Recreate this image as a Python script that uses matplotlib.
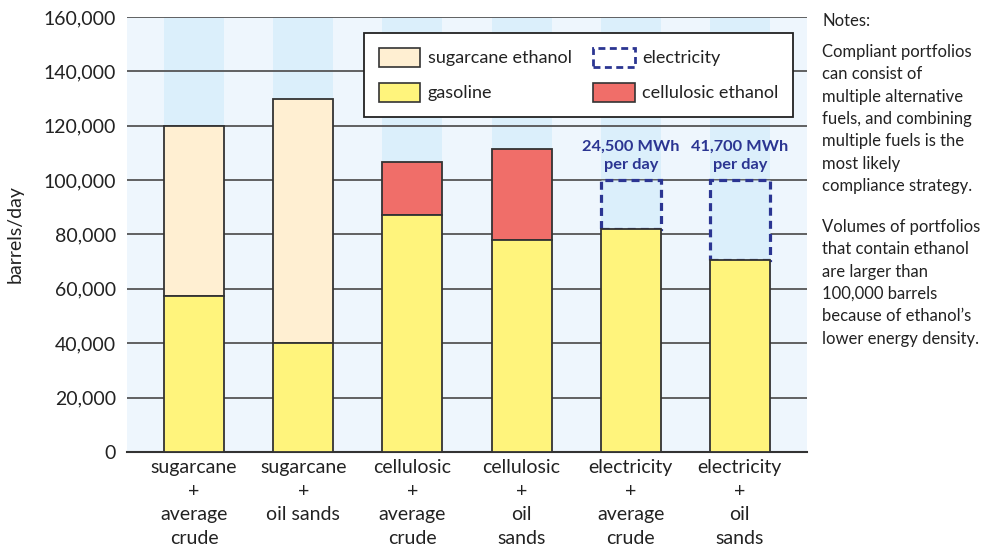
import matplotlib
matplotlib.use("Agg")
import matplotlib.pyplot as plt
from matplotlib.patches import Patch
import numpy as np

plt.rcParams['font.family'] = ['Lato', 'DejaVu Sans']

categories = ["sugarcane\n+\naverage\ncrude", "sugarcane\n+\noil sands",
              "cellulosic\n+\naverage\ncrude", "cellulosic\n+\noil\nsands",
              "electricity\n+\naverage\ncrude", "electricity\n+\noil\nsands"]
gasoline = [57500, 40000, 87000, 78000, 82000, 70500]
sugarcane_ethanol = [62500, 90000, 0, 0, 0, 0]
cellulosic_ethanol = [0, 0, 19500, 33500, 0, 0]
electricity_total = [0, 0, 0, 0, 100000, 100000]
electricity_labels = ["", "", "", "", "24,500 MWh\nper day", "41,700 MWh\nper day"]
yticks = [0, 20000, 40000, 60000, 80000, 100000, 120000, 140000, 160000]
notes = ("Notes:",
         "Compliant portfolios\ncan consist of\nmultiple alternative\nfuels, and combining\nmultiple fuels is the\nmost likely\ncompliance strategy.",
         "Volumes of portfolios\nthat contain ethanol\nare larger than\n100,000 barrels\nbecause of ethanol\u2019s\nlower energy density.")

C_SUG = "#FFEFD2"
C_GAS = "#FFF47C"
C_CEL = "#F06E69"
C_ELE = "#2B3592"
C_BG = "#EEF6FD"
C_STRIPE = "#DBEFFB"
EDGE = "#333333"
TXT = "#222222"

fig = plt.figure(figsize=(9.82, 5.5), dpi=100)
ax = fig.add_axes([127/982, 98/550, 680/982, 435/550])
ax.set_facecolor(C_BG)

x = np.arange(len(categories))
w = 0.55
for xi in x:
    ax.axvspan(xi - w/2, xi + w/2, color=C_STRIPE, zorder=0.1, lw=0)

ax.set_axisbelow(True)
ax.yaxis.grid(True, color="#555555", lw=1.3, zorder=0.5)

gas = np.array(gasoline)
sug = np.array(sugarcane_ethanol)
cel = np.array(cellulosic_ethanol)
ele = np.array(electricity_total)

ax.bar(x, gas, w, color=C_GAS, edgecolor=EDGE, lw=1.3, zorder=4)
m = sug > 0
ax.bar(x[m], sug[m], w, bottom=gas[m], color=C_SUG, edgecolor=EDGE, lw=1.3, zorder=3)
m = cel > 0
ax.bar(x[m], cel[m], w, bottom=gas[m], color=C_CEL, edgecolor=EDGE, lw=1.3, zorder=3)
m = ele > 0
ax.bar(x[m], ele[m] - gas[m], w, bottom=gas[m], color=C_STRIPE, edgecolor=C_ELE,
       lw=2.3, linestyle=(0, (2.5, 1.6)), zorder=3)
for xi, lab, top in zip(x, electricity_labels, ele):
    if lab:
        ax.text(xi, top + 3000, lab, ha="center", va="bottom", fontsize=11.8,
                fontweight="bold", color=C_ELE, linespacing=1.4, zorder=5)

ax.set_xlim(-0.615, len(categories) - 1 + 0.615)
ax.set_ylim(0, 160000)
ax.set_yticks(yticks)
ax.set_yticklabels([f"{v:,}" for v in yticks], fontsize=14, color=TXT)
ax.set_xticks(x)
ax.set_xticklabels(categories, fontsize=14, color=TXT, linespacing=1.47)
ax.tick_params(axis="both", length=0, pad=8)
ax.tick_params(axis="x", pad=5)
for s in ["top", "right", "left"]:
    ax.spines[s].set_visible(False)
ax.spines["bottom"].set_color("#333333")
ax.spines["bottom"].set_linewidth(1.5)
ax.set_ylabel("barrels/day", fontsize=14, color=TXT, labelpad=14)

handles = [Patch(facecolor=C_SUG, edgecolor=EDGE, lw=1.2, label="sugarcane ethanol"),
           Patch(facecolor=C_GAS, edgecolor=EDGE, lw=1.2, label="gasoline"),
           Patch(facecolor="white", edgecolor=C_ELE, lw=2, linestyle=(0, (2.5, 1.6)), label="electricity"),
           Patch(facecolor=C_CEL, edgecolor=EDGE, lw=1.2, label="cellulosic ethanol")]
leg = ax.legend(handles=handles, ncol=2, loc="upper left", bbox_to_anchor=(0.349, 0.963),
                borderaxespad=0, fancybox=False, framealpha=1, edgecolor="#222222",
                fontsize=13, handlelength=2.3, handleheight=1.3, columnspacing=1.2,
                labelspacing=0.85, borderpad=0.8, handletextpad=0.4)
leg.get_frame().set_linewidth(1.3)
leg.set_zorder(6)
for t in leg.get_texts():
    t.set_color(TXT)

fig.text(822/982, 1 - 13/550, notes[0], ha="left", va="top", fontsize=12, color=TXT)
fig.text(822/982, 1 - 44/550, notes[1], ha="left", va="top", fontsize=12, color=TXT, linespacing=1.49)
fig.text(822/982, 1 - 219/550, notes[2], ha="left", va="top", fontsize=12, color=TXT, linespacing=1.49)

fig.savefig("out.png", dpi=100)
